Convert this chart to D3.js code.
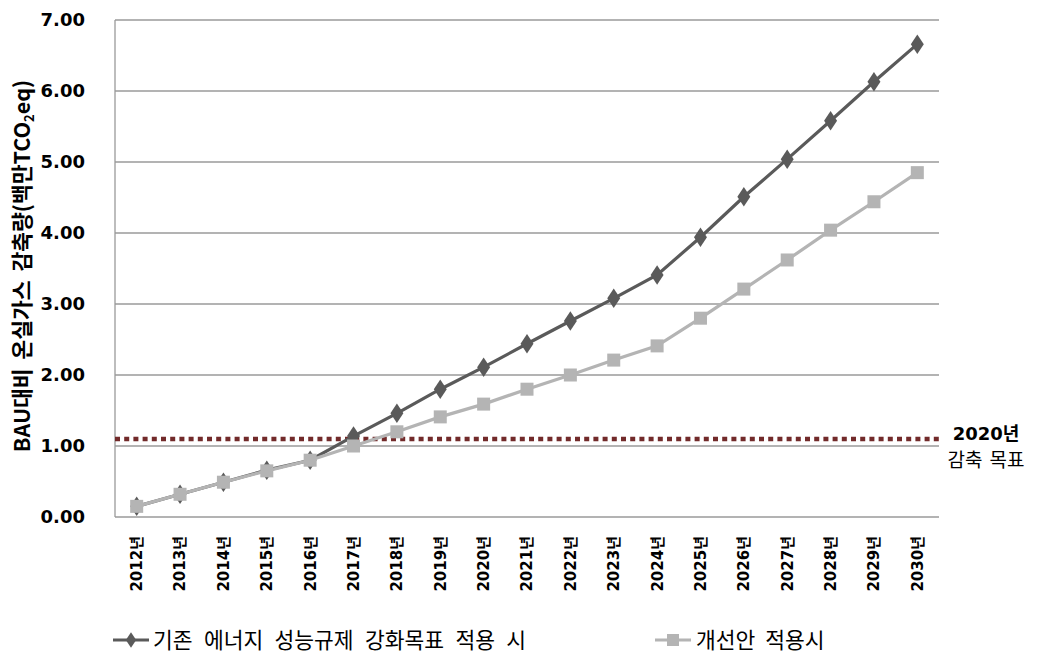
<!DOCTYPE html>
<html>
<head>
<meta charset="utf-8">
<script src="https://cdn.jsdelivr.net/npm/d3@7/dist/d3.min.js"></script>
<style>
  html, body { margin: 0; padding: 0; background: #fff; }
  svg { display: block; }
  text { font-family: "DejaVu Sans", "Noto Sans CJK KR", sans-serif; }
  .kr { font-family: "Noto Sans CJK KR", "DejaVu Sans", sans-serif; }
</style>
</head>
<body>
<svg id="chart" width="1040" height="654"></svg>
<script>
// Years on the category axis
const years = [2012, 2013, 2014, 2015, 2016, 2017, 2018, 2019, 2020, 2021,
               2022, 2023, 2024, 2025, 2026, 2027, 2028, 2029, 2030];
const yearLabels = years.map(y => y + "년");

// Reduction vs. BAU (million tCO2eq)
const existingPolicy = [0.15, 0.32, 0.49, 0.66, 0.80, 1.14, 1.46, 1.80, 2.11, 2.44,
                        2.76, 3.08, 3.41, 3.94, 4.51, 5.04, 5.58, 6.13, 6.66];
const improvedPlan   = [0.15, 0.32, 0.49, 0.65, 0.80, 1.00, 1.20, 1.41, 1.59, 1.80,
                        2.00, 2.21, 2.41, 2.80, 3.21, 3.62, 4.04, 4.44, 4.85];

const seriesNames = ["기존 에너지 성능규제 강화목표 적용 시", "개선안 적용시"];
const target2020 = 1.1;
const targetLabel = ["2020년", "감축 목표"];
const yTicks = [0, 1, 2, 3, 4, 5, 6, 7];

const svg = d3.select("#chart");
const m = { left: 115, right: 939, top: 20, bottom: 517 };

const x = d3.scaleBand().domain(yearLabels).range([m.left, m.right]).paddingInner(0).paddingOuter(0);
const y = d3.scaleLinear().domain([0, 7]).range([m.bottom, m.top]);
const cx = d => x(d) + x.bandwidth() / 2;

// Horizontal gridlines
svg.append("g").selectAll("line").data(yTicks.filter(t => t > 0)).join("line")
  .attr("x1", m.left).attr("x2", m.right)
  .attr("y1", d => y(d)).attr("y2", d => y(d))
  .attr("stroke", "#9a9a9a").attr("stroke-width", 1.3);

// Axes frame (left and bottom)
svg.append("line").attr("x1", m.left).attr("x2", m.left).attr("y1", m.top).attr("y2", m.bottom)
  .attr("stroke", "#9a9a9a").attr("stroke-width", 1.3);
svg.append("line").attr("x1", m.left).attr("x2", m.right).attr("y1", m.bottom).attr("y2", m.bottom)
  .attr("stroke", "#9a9a9a").attr("stroke-width", 1.3);

// Y axis tick labels
const yAxis = d3.axisLeft(y).tickValues(yTicks).tickFormat(d3.format(".2f")).tickSize(0).tickPadding(30);
const gy = svg.append("g").attr("transform", `translate(${m.left},0)`).call(yAxis);
gy.select(".domain").remove();
gy.selectAll("text").attr("font-size", 18).attr("font-weight", "bold").attr("fill", "#000")
  .attr("font-family", "'DejaVu Sans', sans-serif");

// X axis category labels, rotated
const xAxis = d3.axisBottom(x).tickSize(0).tickPadding(0);
const gx = svg.append("g").attr("transform", `translate(0,${m.bottom})`).call(xAxis);
gx.select(".domain").remove();
gx.selectAll("text")
  .attr("font-family", "'Liberation Sans', 'Noto Sans CJK KR', sans-serif")
  .attr("font-size", 15).attr("font-weight", "bold").attr("fill", "#000")
  .attr("transform", "rotate(-90)")
  .attr("text-anchor", "end")
  .attr("x", -19).attr("y", 0).attr("dy", "0.36em");

// Y axis title
const yt = svg.append("text")
  .attr("transform", "translate(30,266) rotate(-90)")
  .attr("text-anchor", "middle")
  .attr("class", "kr")
  .attr("word-spacing", 4)
  .attr("font-size", 21.5).attr("font-weight", "bold").attr("fill", "#000");
yt.append("tspan").text("BAU대비 온실가스 감축량(백만TCO");
yt.append("tspan").attr("font-size", 13).attr("dy", 4).text("2");
yt.append("tspan").attr("dy", -4).text("eq)");

// 2020 target dotted line
svg.append("line")
  .attr("x1", m.left).attr("x2", m.right + 2)
  .attr("y1", y(target2020)).attr("y2", y(target2020))
  .attr("stroke", "#722a2a").attr("stroke-width", 4.5)
  .attr("stroke-dasharray", "5,4.2");

svg.append("text").attr("x", 986).attr("y", 440).attr("text-anchor", "middle")
  .attr("font-size", 18).attr("font-weight", "bold").attr("fill", "#000").text(targetLabel[0]);
svg.append("text").attr("x", 986).attr("y", 467).attr("text-anchor", "middle")
  .attr("class", "kr").attr("word-spacing", 3)
  .attr("font-size", 19).attr("fill", "#000").text(targetLabel[1]);

const line = d3.line().x((d, i) => cx(yearLabels[i])).y(d => y(d));

const diamond = d3.symbol().type(d3.symbolDiamond).size(110);
const legendDiamond = d3.symbol().type(d3.symbolDiamond).size(70);
const darkColor = "#5a5a5a", lightColor = "#b4b4b4";

// Existing policy series (dark, diamonds)
svg.append("path").datum(existingPolicy).attr("d", line)
  .attr("fill", "none").attr("stroke", darkColor).attr("stroke-width", 3.2);
svg.append("g").selectAll("path").data(existingPolicy).join("path")
  .attr("d", diamond)
  .attr("transform", (d, i) => `translate(${cx(yearLabels[i])},${y(d)}) scale(1.15,1)`)
  .attr("fill", darkColor);

// Improved plan series (light, squares)
svg.append("path").datum(improvedPlan).attr("d", line)
  .attr("fill", "none").attr("stroke", lightColor).attr("stroke-width", 3.2);
svg.append("g").selectAll("rect").data(improvedPlan).join("rect")
  .attr("x", (d, i) => cx(yearLabels[i]) - 6.5).attr("y", d => y(d) - 6.5)
  .attr("width", 13).attr("height", 13).attr("fill", lightColor);

// Legend
const legend = svg.append("g");
const leg1 = legend.append("g").attr("transform", "translate(113,640)");
leg1.append("line").attr("x1", 0).attr("x2", 36).attr("stroke", darkColor).attr("stroke-width", 3);
leg1.append("path").attr("d", legendDiamond).attr("transform", "translate(18,0) scale(1.15,1)").attr("fill", darkColor);
leg1.append("text").attr("x", 40).attr("dy", "0.36em").attr("class", "kr")
  .attr("word-spacing", 6.5)
  .attr("font-size", 21.5).attr("fill", "#000").text(seriesNames[0]);

const leg2 = legend.append("g").attr("transform", "translate(655,640)");
leg2.append("line").attr("x1", 0).attr("x2", 36).attr("stroke", lightColor).attr("stroke-width", 3);
leg2.append("rect").attr("x", 12).attr("y", -6).attr("width", 12).attr("height", 12).attr("fill", lightColor);
leg2.append("text").attr("x", 41).attr("dy", "0.36em").attr("class", "kr")
  .attr("word-spacing", 5)
  .attr("font-size", 21.5).attr("fill", "#000").text(seriesNames[1]);
</script>
</body>
</html>
